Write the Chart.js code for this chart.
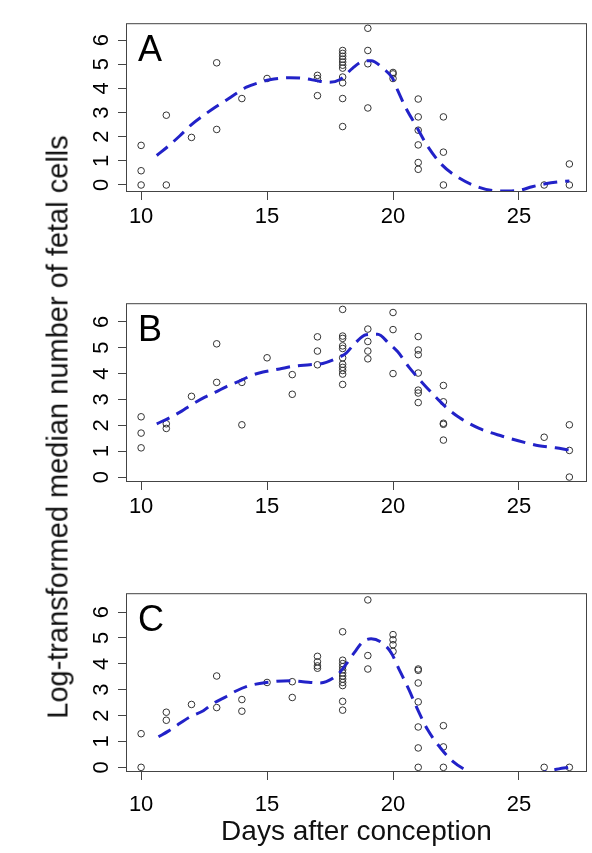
<!DOCTYPE html>
<html>
<head>
<meta charset="utf-8">
<script src="https://cdn.jsdelivr.net/npm/chart.js@4.4.1/dist/chart.umd.min.js"></script>
<style>
  html, body { margin: 0; padding: 0; background: #fff; }
  #wrap { position: relative; width: 592px; height: 853px; overflow: hidden; font-family: 'Liberation Sans', Arial, sans-serif; }
  canvas { position: absolute; left: 0; }
  #ytitle { position: absolute; left: 58px; top: 427px; transform: translate(-50%, -50%) rotate(-90deg); white-space: nowrap; font-size: 29px; color: #111; }
</style>
</head>
<body>
<div id="wrap">
  <canvas id="panelA" width="592" height="250" style="top:0"></canvas>
  <canvas id="panelB" width="592" height="250" style="top:280px"></canvas>
  <canvas id="panelC" width="592" height="283" style="top:570px"></canvas>
  <div id="ytitle">Log-transformed median number of fetal cells</div>
</div>
<script>
const xTicks = [10, 15, 20, 25];
const yTicks = [0, 1, 2, 3, 4, 5, 6];

// panel A
const aDays = [10,10,10, 11,11, 12, 13,13, 14, 15, 17,17,17,
  18,18,18,18,18,18,18,18,18,18,18, 19,19,19,19, 20,20,20,
  21,21,21,21,21,21, 22,22,22, 26, 27,27];
const aVals = [1.64,0.59,0, 2.89,0, 1.97, 5.06,2.30, 3.58, 4.41, 4.54,4.41,3.70,
  5.57,5.45,5.33,5.21,5.09,4.96,4.84,4.47,4.23,3.58,2.42, 6.49,5.57,5.02,3.19, 4.66,4.60,4.41,
  3.56,2.82,2.27,1.66,0.93,0.65, 2.82,1.36,0, 0, 0.87,0];
const aFitX = [10.62, 11.08, 11.54, 12.0, 12.53, 13.0, 13.39, 13.79, 14.18, 14.71, 15.1, 15.9, 16.41,
  17.08, 17.48, 17.88, 18.4, 18.73, 19.13, 19.59, 19.98, 20.18, 20.51, 20.91, 21.37, 21.9, 22.56,
  23.42, 24.2, 25.0, 25.52, 26.05, 26.58, 27.0];
const aFitY = [1.22, 1.61, 2.04, 2.50, 2.92, 3.26, 3.52, 3.80, 4.05, 4.25, 4.36, 4.44, 4.42,
  4.30, 4.25, 4.36, 4.84, 5.09, 5.15, 4.84, 4.42, 3.93, 3.19, 2.46, 1.61, 0.88, 0.33,
  -0.10, -0.25, -0.22, -0.07, 0.05, 0.13, 0.17];

// panel B
const bDays = [10,10,10, 11,11, 12, 13,13, 14,14, 15, 16,16, 17,17,17,
  18,18,18,18,18,18,18,18,18,18,18, 19,19,19,19, 20,20,20,
  21,21,21,21,21,21,21, 22,22,22,22,22, 26, 27,27,27];
const bVals = [2.33,1.70,1.13, 2.06,1.88, 3.12, 5.15,3.66, 3.66,2.02, 4.61, 3.96,3.20, 5.42,4.87,4.34,
  6.48,5.45,5.36,5.07,4.97,4.61,4.36,4.24,4.12,3.98,3.58, 5.72,5.24,4.87,4.57, 6.36,5.70,4.00,
  5.43,4.91,4.73,4.02,3.36,3.25,2.88, 3.54,2.91,2.08,2.04,1.43, 1.54, 2.02,1.03,0];
const bFitX = [10.62, 11.15, 11.61, 11.94, 12.53, 12.93, 13.39, 13.92, 14.44, 14.84, 15.5, 16.03, 16.69,
  17.21, 17.81, 18.14, 18.47, 18.93, 19.39, 19.85, 20.18, 20.64, 21.17, 21.76, 22.1, 22.63, 23.42,
  24.34, 25.26, 25.79, 26.45, 26.98];
const bFitY = [2.06, 2.30, 2.55, 2.76, 3.09, 3.27, 3.50, 3.72, 3.95, 4.06, 4.18, 4.28, 4.34,
  4.39, 4.61, 4.79, 5.15, 5.50, 5.52, 5.15, 4.85, 4.24, 3.64, 3.03, 2.70, 2.30, 1.88,
  1.58, 1.33, 1.21, 1.13, 1.05];

// panel C
const cDays = [10,10, 11,11, 12, 13,13, 14,14, 15, 16,16, 17,17,17,17,
  18,18,18,18,18,18,18,18,18,18,18,18, 19,19,19, 20,20,20,20,
  21,21,21,21,21,21,21, 22,22,22, 26, 27];
const cVals = [1.30,0, 2.13,1.82, 2.43, 3.53,2.31, 2.62,2.17, 3.28, 3.31,2.70, 4.29,4.08,3.92,3.83,
  5.24,4.14,4.01,3.89,3.77,3.65,3.53,3.41,3.28,3.16,2.55,2.21, 6.47,4.32,3.80, 5.13,4.93,4.74,4.48,
  3.80,3.75,3.26,2.53,1.56,0.75,0, 1.61,0.79,0, 0, 0];
const cFitX = [10.69, 11.08, 11.54, 11.94, 12.47, 12.86, 13.39, 13.79, 14.31, 14.97, 15.9, 16.42, 17.08,
  17.35, 17.81, 18.14, 18.47, 18.80, 19.13, 19.52, 19.92, 20.25, 20.64, 20.97, 21.37, 21.9, 22.36,
  23.02, 23.6, 24.4, 25.2, 25.79, 26.58, 27.0];
const cFitY = [1.18, 1.40, 1.70, 1.95, 2.19, 2.47, 2.74, 2.96, 3.16, 3.28, 3.35, 3.31, 3.26,
  3.31, 3.59, 3.99, 4.44, 4.85, 4.97, 4.84, 4.44, 3.77, 2.98, 2.25, 1.46, 0.73, 0.24,
  -0.18, -0.45, -0.6, -0.5, -0.24, -0.06, 0.0];

const family = "'Liberation Sans', Arial, sans-serif";

// box round the plot region + panel letter
const framePlugin = {
  id: 'frame',
  afterDraw(chart, args, opts) {
    const { ctx, chartArea: a } = chart;
    ctx.save();
    ctx.strokeStyle = '#444';
    ctx.lineWidth = 1;
    ctx.strokeRect(a.left + 0.5, a.top + 0.5, a.right - a.left - 1, a.bottom - a.top - 1);
    ctx.fillStyle = '#000';
    ctx.font = '36px ' + family;
    ctx.textAlign = 'left';
    ctx.textBaseline = 'middle';
    ctx.fillText(opts.letter, a.left + 12, a.top + 28);
    ctx.restore();
  }
};

function makePanel(id, letter, days, vals, fitX, fitY, yMin, yMax, padTop, xHeight, xPad, showTitle) {
  const ctx = document.getElementById(id).getContext('2d');
  return new Chart(ctx, {
    type: 'scatter',
    data: {
      datasets: [
        {
          data: fitX.map((x, i) => ({ x: x, y: fitY[i] })),
          showLine: true,
          borderColor: '#2222c8',
          borderWidth: 3,
          borderDash: [14, 8],
          pointRadius: 0,
          cubicInterpolationMode: 'monotone',
          fill: false
        },
        {
          data: days.map((d, i) => ({ x: d, y: vals[i] })),
          pointRadius: 3.3,
          pointBorderWidth: 1,
          borderColor: '#333',
          backgroundColor: 'rgba(0,0,0,0)',
          pointBackgroundColor: 'rgba(0,0,0,0)'
        }
      ]
    },
    options: {
      responsive: false,
      animation: false,
      layout: { padding: { top: padTop, right: 4, bottom: 0, left: 0 } },
      plugins: {
        legend: { display: false },
        tooltip: { enabled: false },
        frame: { letter: letter }
      },
      scales: {
        x: {
          type: 'linear',
          min: 9.4,
          max: 27.7,
          afterBuildTicks: s => { s.ticks = xTicks.map(v => ({ value: v })); },
          afterFit: s => { s.height = xHeight; },
          border: { display: false },
          grid: { drawOnChartArea: false, drawTicks: true, tickLength: 8, tickColor: '#444', tickWidth: 1 },
          ticks: { color: '#000', font: { size: 22, family: family }, padding: xPad, minRotation: 0, maxRotation: 0, autoSkip: false },
          title: {
            display: showTitle,
            text: 'Days after conception',
            color: '#111',
            font: { size: 28, family: family },
            padding: { top: 4, bottom: 4 }
          }
        },
        y: {
          min: yMin,
          max: yMax,
          afterBuildTicks: s => { s.ticks = yTicks.map(v => ({ value: v })); },
          afterFit: s => { s.width = 126; },
          border: { display: false },
          grid: { drawOnChartArea: false, drawTicks: true, tickLength: 8, tickColor: '#444', tickWidth: 1 },
          ticks: { color: '#000', font: { size: 22, family: family }, padding: 10, minRotation: 90, maxRotation: 90, crossAlign: 'center' }
        }
      }
    },
    plugins: [framePlugin]
  });
}

makePanel('panelA', 'A', aDays, aVals, aFitX, aFitY, -0.29, 6.7, 1, 58, 4, false);
makePanel('panelB', 'B', bDays, bVals, bFitX, bFitY, -0.19, 6.72, 12, 48, 4, false);
makePanel('panelC', 'C', cDays, cVals, cFitX, cFitY, -0.18, 6.73, 13, 81, 12, true);
</script>
</body>
</html>
